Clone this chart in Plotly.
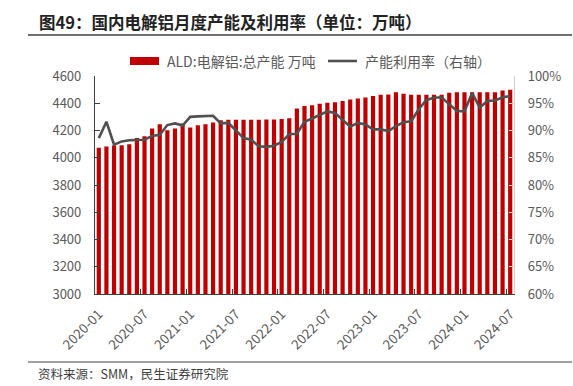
import plotly.graph_objects as go

months = [f"{y}-{m:02d}" for y in range(2020, 2025) for m in range(1, 13)][:55]

capacity = [4074, 4082, 4089, 4091, 4099, 4145, 4157, 4214, 4246, 4202,
            4214, 4251, 4222, 4239, 4246, 4258, 4276, 4279, 4279, 4279,
            4279, 4279, 4281, 4281, 4285, 4290, 4362, 4379, 4386, 4396,
            4403, 4408, 4416, 4428, 4435, 4443, 4453, 4462, 4465, 4480,
            4470, 4462, 4462, 4462, 4462, 4462, 4477, 4481, 4481, 4481,
            4481, 4481, 4481, 4494, 4499]

utilization = [88.6, 91.6, 87.4, 88.0, 88.2, 88.3, 88.3, 89.0, 89.2, 91.0,
               91.3, 90.9, 92.5, 92.6, 92.6, 92.7, 91.3, 91.4, 90.0, 88.6,
               88.3, 87.1, 87.0, 87.2, 87.9, 89.3, 89.4, 91.6, 92.2, 92.8,
               93.5, 93.2, 91.9, 90.7, 91.4, 91.1, 90.2, 90.2, 89.9, 90.8,
               91.5, 91.7, 93.9, 95.6, 96.0, 96.1, 94.8, 93.6, 93.5, 96.9,
               94.2, 95.4, 95.5, 96.1, 96.3]

label_idx = list(range(0, 55, 6))
tick_labels = [months[i] for i in label_idx]

FONT = "Noto Sans CJK SC"
GREY = "#595959"

W, H = 573, 386
PL, PR, PT, PB = 95, 514, 76, 294   # plot area in pixels

x = list(range(len(months)))


def px(xp):
    return xp / W


def py(yp):
    return 1 - yp / H


fig = go.Figure()
fig.add_trace(go.Bar(x=x, y=capacity, name="ALD:电解铝:总产能 万吨",
                     marker=dict(color="#C00000", line=dict(width=0)),
                     width=0.55, yaxis="y", showlegend=False,
                     hovertext=months))
fig.add_trace(go.Scatter(x=x, y=utilization, name="产能利用率（右轴）",
                         mode="lines", line=dict(color="#505050", width=2.6),
                         yaxis="y2", showlegend=False, hovertext=months))

fig.update_layout(
    width=W, height=H,
    margin=dict(l=0, r=0, t=0, b=0, pad=0, autoexpand=False),
    paper_bgcolor="white", plot_bgcolor="white",
    font=dict(family=FONT, size=13, color=GREY),
    xaxis=dict(domain=[px(PL), px(PR)],
               range=[-0.5, 54.5], tickmode="array", tickvals=label_idx,
               ticktext=tick_labels, tickangle=-45, ticks="",
               showline=True, linecolor="#404040", linewidth=1.2,
               showgrid=False, zeroline=False, ticklabelstandoff=6,
               automargin=False,
               tickfont=dict(size=13.5, color=GREY),
               minor=dict(tickmode="array",
                          tickvals=[i - 0.5 for i in label_idx[1:]],
                          ticks="inside", ticklen=5, tickcolor="#404040",
                          tickwidth=1, showgrid=False)),
    yaxis=dict(domain=[py(PB), py(PT)],
               range=[3000, 4600], dtick=200, tick0=3000, showgrid=False,
               showline=True, linecolor="#404040", linewidth=1.2,
               ticks="inside", ticklen=5, tickcolor="#404040",
               zeroline=False, ticklabelstandoff=10, automargin=False,
               tickfont=dict(size=13, color=GREY)),
    yaxis2=dict(range=[60, 100], dtick=5, tick0=60, overlaying="y",
                side="right", anchor="x", showgrid=False, ticksuffix="%",
                showline=True, linecolor="#d0d0d0", linewidth=1.2,
                ticks="inside", ticklen=5, tickcolor="#d0d0d0",
                zeroline=False, ticklabelstandoff=10, automargin=False,
                tickfont=dict(size=13, color=GREY)),
)

# Title and separator rules
fig.add_annotation(x=px(37), y=py(22), xref="paper", yref="paper",
                   xanchor="left", yanchor="middle", showarrow=False,
                   text="<b>图49：国内电解铝月度产能及利用率（单位：万吨）</b>",
                   font=dict(family=FONT, size=16.5, color="#222222"))
fig.add_shape(type="line", xref="paper", yref="paper",
              x0=px(28), x1=px(572), y0=py(35), y1=py(35),
              line=dict(color="#404040", width=1.5))
fig.add_shape(type="line", xref="paper", yref="paper",
              x0=px(28), x1=px(572), y0=py(362), y1=py(362),
              line=dict(color="#808080", width=1.5))
fig.add_annotation(x=px(36), y=py(373), xref="paper", yref="paper",
                   xanchor="left", yanchor="middle", showarrow=False,
                   text="资料来源：SMM，民生证券研究院",
                   font=dict(family=FONT, size=12.5, color="#404040"))

# Legend (drawn manually to match symbol shapes)
fig.add_shape(type="rect", xref="paper", yref="paper",
              x0=px(130), x1=px(159), y0=py(65), y1=py(57),
              fillcolor="#C00000", line=dict(width=0))
fig.add_annotation(x=px(165), y=py(61), xref="paper", yref="paper",
                   xanchor="left", yanchor="middle", showarrow=False,
                   text="ALD:电解铝:总产能 万吨",
                   font=dict(family=FONT, size=14, color=GREY))
fig.add_shape(type="line", xref="paper", yref="paper",
              x0=px(328), x1=px(357), y0=py(61), y1=py(61),
              line=dict(color="#505050", width=2.6))
fig.add_annotation(x=px(363), y=py(61), xref="paper", yref="paper",
                   xanchor="left", yanchor="middle", showarrow=False,
                   text="产能利用率（右轴）",
                   font=dict(family=FONT, size=14, color=GREY))

fig.write_html("out.html",
               config={"displayModeBar": False},
               post_script="document.body.style.margin='0px';"
                           "document.body.style.overflow='hidden';")
